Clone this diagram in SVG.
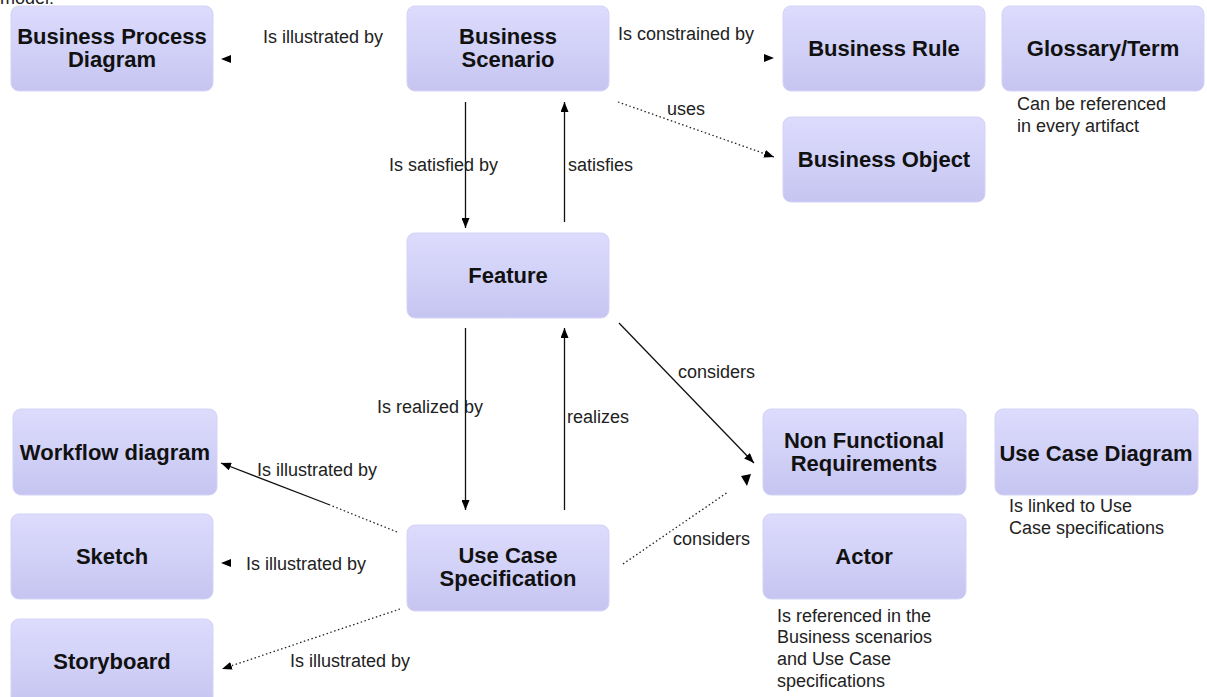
<svg xmlns="http://www.w3.org/2000/svg" width="1207" height="697" viewBox="0 0 1207 697">
  <defs>
    <linearGradient id="boxFill" x1="0" y1="0" x2="0" y2="1">
      <stop offset="0" stop-color="#dddcfd"/>
      <stop offset="1" stop-color="#c6c5f1"/>
    </linearGradient>
    <marker id="arrow" viewBox="0 0 10 8" refX="10" refY="4" markerWidth="10" markerHeight="8" markerUnits="userSpaceOnUse" orient="auto">
      <path d="M0,0 L10,4 L0,8 Z" fill="#000"/>
    </marker>
  </defs>
  <style>
    .box { fill: url(#boxFill); stroke: #d4d3f6; stroke-width: 1; }
    .title { font-family: "Liberation Sans", Arial, sans-serif; font-size: 22px; font-weight: bold; fill: #111; text-anchor: middle; }
    .label { font-family: "Liberation Sans", Arial, sans-serif; font-size: 18px; fill: #222; }
    .solid { fill: none; stroke: #111; stroke-width: 1.3; }
    .dotted { fill: none; stroke: #222; stroke-width: 1.3; stroke-dasharray: 1.5 2.5; }
    .hidden { fill: none; stroke: none; }
  </style>

  <rect width="1207" height="697" fill="#fff"/>
  <text class="label" x="0" y="4">model:</text>

  <!-- connectors -->
  <g id="connectors">
    <path class="hidden" d="M260,59 L221,59" marker-end="url(#arrow)"/>
    <path class="hidden" d="M740,58 L774,58" marker-end="url(#arrow)"/>
    <path class="dotted" d="M618,102 L774,157" marker-end="url(#arrow)"/>
    <path class="solid" d="M465.5,102 L465.5,228" marker-end="url(#arrow)"/>
    <path class="solid" d="M564.5,222 L564.5,102" marker-end="url(#arrow)"/>
    <path class="solid" d="M465.5,328 L465.5,510" marker-end="url(#arrow)"/>
    <path class="solid" d="M564.5,510 L564.5,328" marker-end="url(#arrow)"/>
    <path class="solid" d="M619,323 L754,463" marker-end="url(#arrow)"/>
    <path class="dotted" d="M623,564 L728,492"/>
    <path d="M741,476 L751,474 L747,486 Z" fill="#000"/>
    <path class="solid" d="M330,505 L221,463" marker-end="url(#arrow)"/>
    <path class="dotted" d="M397,532 L330,505"/>
    <path class="hidden" d="M260,563 L221,563" marker-end="url(#arrow)"/>
    <path class="dotted" d="M400,609 L222,669" marker-end="url(#arrow)"/>
  </g>

  <!-- connector labels -->
  <g id="connector-labels">
    <text class="label" x="263" y="43">Is illustrated by</text>
    <text class="label" x="618" y="40">Is constrained by</text>
    <text class="label" x="667" y="115">uses</text>
    <text class="label" x="389" y="171">Is satisfied by</text>
    <text class="label" x="568" y="171">satisfies</text>
    <text class="label" x="377" y="413">Is realized by</text>
    <text class="label" x="567" y="423">realizes</text>
    <text class="label" x="678" y="378">considers</text>
    <text class="label" x="673" y="545">considers</text>
    <text class="label" x="257" y="476">Is illustrated by</text>
    <text class="label" x="246" y="570">Is illustrated by</text>
    <text class="label" x="290" y="667">Is illustrated by</text>
  </g>

  <!-- nodes -->
  <g id="business-process-diagram">
    <rect class="box" x="11" y="6" width="202" height="85" rx="8"/>
    <text class="title" x="112" y="44">Business Process</text>
    <text class="title" x="112" y="67">Diagram</text>
  </g>
  <g id="business-scenario">
    <rect class="box" x="407" y="6" width="202" height="85" rx="8"/>
    <text class="title" x="508" y="44">Business</text>
    <text class="title" x="508" y="67">Scenario</text>
  </g>
  <g id="business-rule">
    <rect class="box" x="783" y="6" width="202" height="85" rx="8"/>
    <text class="title" x="884" y="56">Business Rule</text>
  </g>
  <g id="glossary-term">
    <rect class="box" x="1002" y="6" width="202" height="85" rx="8"/>
    <text class="title" x="1103" y="56">Glossary/Term</text>
    <text class="label" x="1017" y="110">Can be referenced</text>
    <text class="label" x="1017" y="132">in every artifact</text>
  </g>
  <g id="business-object">
    <rect class="box" x="783" y="117" width="202" height="85" rx="8"/>
    <text class="title" x="884" y="167">Business Object</text>
  </g>
  <g id="feature">
    <rect class="box" x="407" y="233" width="202" height="85" rx="8"/>
    <text class="title" x="508" y="283">Feature</text>
  </g>
  <g id="non-functional-requirements">
    <rect class="box" x="763" y="409" width="203" height="86" rx="8"/>
    <text class="title" x="864" y="448">Non Functional</text>
    <text class="title" x="864" y="471">Requirements</text>
  </g>
  <g id="use-case-diagram">
    <rect class="box" x="995" y="409" width="203" height="86" rx="8"/>
    <text class="title" x="1096" y="461">Use Case Diagram</text>
    <text class="label" x="1009" y="512">Is linked to Use</text>
    <text class="label" x="1009" y="534">Case specifications</text>
  </g>
  <g id="actor">
    <rect class="box" x="763" y="514" width="203" height="85" rx="8"/>
    <text class="title" x="864" y="564">Actor</text>
    <text class="label" x="777" y="622">Is referenced in the</text>
    <text class="label" x="777" y="643">Business scenarios</text>
    <text class="label" x="777" y="665">and Use Case</text>
    <text class="label" x="777" y="687">specifications</text>
  </g>
  <g id="workflow-diagram">
    <rect class="box" x="13" y="409" width="204" height="86" rx="8"/>
    <text class="title" x="115" y="460">Workflow diagram</text>
  </g>
  <g id="sketch">
    <rect class="box" x="11" y="514" width="202" height="85" rx="8"/>
    <text class="title" x="112" y="564">Sketch</text>
  </g>
  <g id="storyboard">
    <rect class="box" x="11" y="619" width="202" height="86" rx="8"/>
    <text class="title" x="112" y="669">Storyboard</text>
  </g>
  <g id="use-case-specification">
    <rect class="box" x="407" y="525" width="202" height="86" rx="8"/>
    <text class="title" x="508" y="563">Use Case</text>
    <text class="title" x="508" y="586">Specification</text>
  </g>
</svg>
